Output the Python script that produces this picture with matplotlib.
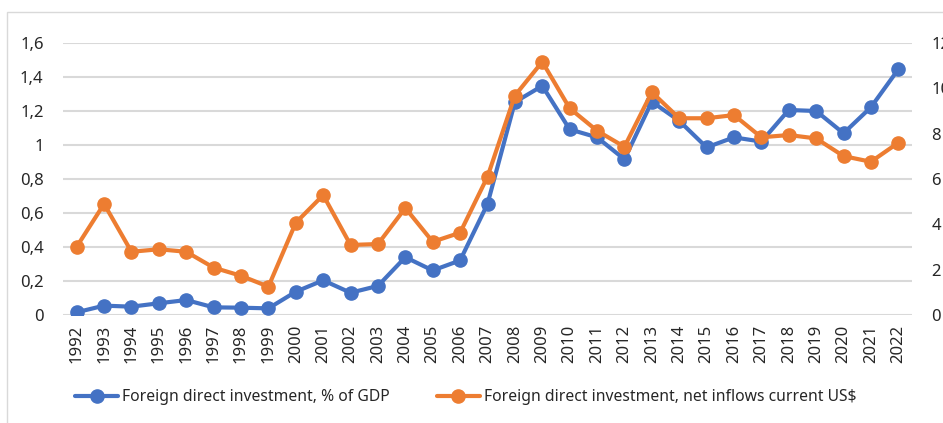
import matplotlib
matplotlib.use('Agg')
import matplotlib.pyplot as plt
from matplotlib.ticker import FuncFormatter
from matplotlib.patches import Rectangle
import numpy as np

plt.rcParams['font.family'] = ['Noto Sans', 'DejaVu Sans']

years = [str(y) for y in range(1992, 2023)]
fdi_gdp = [0.016, 0.055, 0.049, 0.069, 0.088, 0.045, 0.043, 0.039, 0.137, 0.204,
           0.131, 0.171, 0.340, 0.262, 0.321, 0.653, 1.252, 1.348, 1.092, 1.045,
           0.916, 1.255, 1.142, 0.986, 1.045, 1.020, 1.206, 1.200, 1.069, 1.222,
           1.445]
fdi_usd = [3.01, 4.90, 2.79, 2.90, 2.79, 2.09, 1.73, 1.25, 4.07, 5.29,
           3.09, 3.13, 4.72, 3.23, 3.63, 6.10, 9.68, 11.17, 9.12, 8.13,
           7.42, 9.83, 8.68, 8.68, 8.82, 7.84, 7.94, 7.79, 7.01, 6.76,
           7.60]
label_gdp = "Foreign direct investment, % of GDP"
label_usd = "Foreign direct investment, net inflows current US$"

blue = '#4472C4'
orange = '#ED7D31'
grid_c = '#d9d9d9'
text_c = '#262626'

fig = plt.figure(figsize=(9.43, 4.23), dpi=100)
# chart frame, cut off at the right and bottom edges like the source
fig.patches.append(Rectangle((7 / 943, -0.1), 2, 1.1 - 12 / 423, transform=fig.transFigure,
                             fill=False, edgecolor=grid_c, linewidth=1.0))
ax = fig.add_axes([63 / 943, 1 - 315 / 423, (912 - 63) / 943, (315 - 43) / 423])
ax2 = ax.twinx()

x = np.arange(len(years))
l1, = ax.plot(x, fdi_gdp, color=blue, lw=3.0, marker='o', ms=9.5, label=label_gdp,
              solid_capstyle='round', solid_joinstyle='round')
l2, = ax2.plot(x, fdi_usd, color=orange, lw=3.0, marker='o', ms=9.5, label=label_usd,
               solid_capstyle='round', solid_joinstyle='round')

ax.set_xlim(-0.5, len(years) - 0.5)
ax.set_ylim(0, 1.6)
ax.set_yticks(np.arange(0, 1.61, 0.2))
ax2.set_ylim(0, 12)
ax2.set_yticks(np.arange(0, 13, 2))

fmt = FuncFormatter(lambda v, p: ('%g' % round(v, 2)).replace('.', ','))
ax.yaxis.set_major_formatter(fmt)
ax2.yaxis.set_major_formatter(fmt)

ax.set_xticks(x)
ax.set_xticklabels(years, rotation=90)
ax.grid(axis='y', color=grid_c, lw=1.5)
ax.set_axisbelow(True)

for a in (ax, ax2):
    for s in a.spines.values():
        s.set_visible(False)
    a.tick_params(length=0, labelsize=12, colors=text_c)
ax.tick_params(axis='y', pad=14)
ax2.tick_params(axis='y', pad=14)
ax.tick_params(axis='x', pad=7)

fig.legend([l1, l2], [label_gdp, label_usd], loc='center left',
           bbox_to_anchor=(75 / 943, 1 - 397 / 423), ncol=2, frameon=False,
           fontsize=11.3, handlelength=2.75, handletextpad=0.25, columnspacing=3.0,
           labelcolor=text_c, borderaxespad=0, borderpad=0)

fig.savefig('out.png', dpi=100)
